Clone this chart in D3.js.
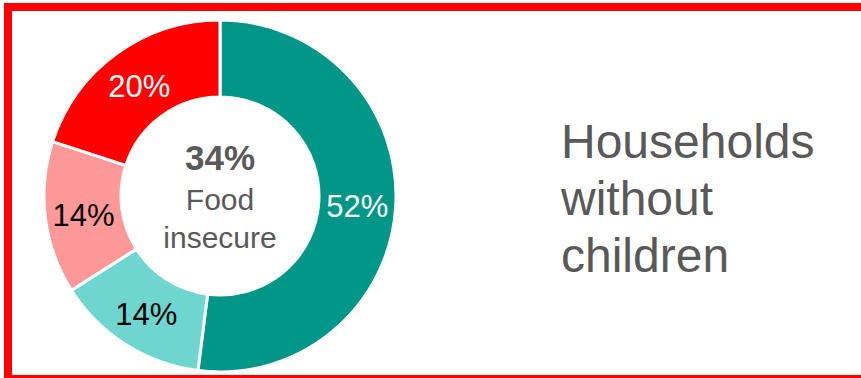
<!DOCTYPE html>
<html>
<head>
<meta charset="utf-8">
<script src="https://cdn.jsdelivr.net/npm/d3@7"></script>
<style>
  html, body { margin: 0; padding: 0; background: #fff; }
  svg { display: block; }
  text { font-family: "Liberation Sans", Arial, sans-serif; }
</style>
</head>
<body>
<div id="chart"></div>
<script>
// Share of households without children, by food security status
const categories = ["High food security", "Marginal food security", "Low food security", "Very low food security"];
const shares = [52, 14, 14, 20];
const sliceColors = ["#009688", "#6fd5cf", "#ff9999", "#ff0000"];
const labelColors = ["#ffffff", "#000000", "#000000", "#ffffff"];
const centerValue = "34%";
const centerLines = ["Food", "insecure"];
const titleLines = ["Households", "without", "children"];

const width = 861, height = 378;
const svg = d3.select("#chart").append("svg")
  .attr("width", width)
  .attr("height", height);

svg.append("rect")
  .attr("width", width).attr("height", height)
  .attr("fill", "#fff");

// Red frame (runs past the right and bottom edges)
svg.append("rect")
  .attr("x", 8).attr("y", 7)
  .attr("width", 870).attr("height", 372)
  .attr("fill", "none")
  .attr("stroke", "#ff0000")
  .attr("stroke-width", 8);

const cx = 220, cy = 196;
const outerR = 176, innerR = 99;

const pie = d3.pie().sort(null).value(d => d.value);
const arcs = pie(categories.map((c, i) => ({ name: c, value: shares[i], i })));

const arc = d3.arc().innerRadius(innerR).outerRadius(outerR);
const labelArc = d3.arc().innerRadius((innerR + outerR) / 2).outerRadius((innerR + outerR) / 2);

const g = svg.append("g").attr("transform", `translate(${cx},${cy})`);

g.selectAll("path.slice")
  .data(arcs)
  .join("path")
  .attr("class", "slice")
  .attr("d", arc)
  .attr("fill", d => sliceColors[d.data.i])
  .attr("stroke", "#ffffff")
  .attr("stroke-width", 3);

g.selectAll("text.pct")
  .data(arcs)
  .join("text")
  .attr("class", "pct")
  .attr("transform", d => `translate(${labelArc.centroid(d)})`)
  .attr("text-anchor", "middle")
  .attr("dy", "0.4em")
  .attr("font-size", 31)
  .attr("fill", d => labelColors[d.data.i])
  .text(d => d3.format(".0f")(d.data.value) + "%");

// Centre annotation
g.append("text")
  .attr("text-anchor", "middle")
  .attr("y", 170 - cy)
  .attr("font-size", 35)
  .attr("font-weight", "bold")
  .attr("fill", "#595959")
  .text(centerValue);

g.selectAll("text.center")
  .data(centerLines)
  .join("text")
  .attr("class", "center")
  .attr("text-anchor", "middle")
  .attr("y", (d, i) => 210 - cy + i * 38)
  .attr("font-size", 30)
  .attr("fill", "#595959")
  .text(d => d);

// Group title
svg.selectAll("text.title")
  .data(titleLines)
  .join("text")
  .attr("class", "title")
  .attr("x", 561)
  .attr("y", (d, i) => 158 + i * 57)
  .attr("font-size", 48)
  .attr("fill", "#595959")
  .text(d => d);
</script>
</body>
</html>
